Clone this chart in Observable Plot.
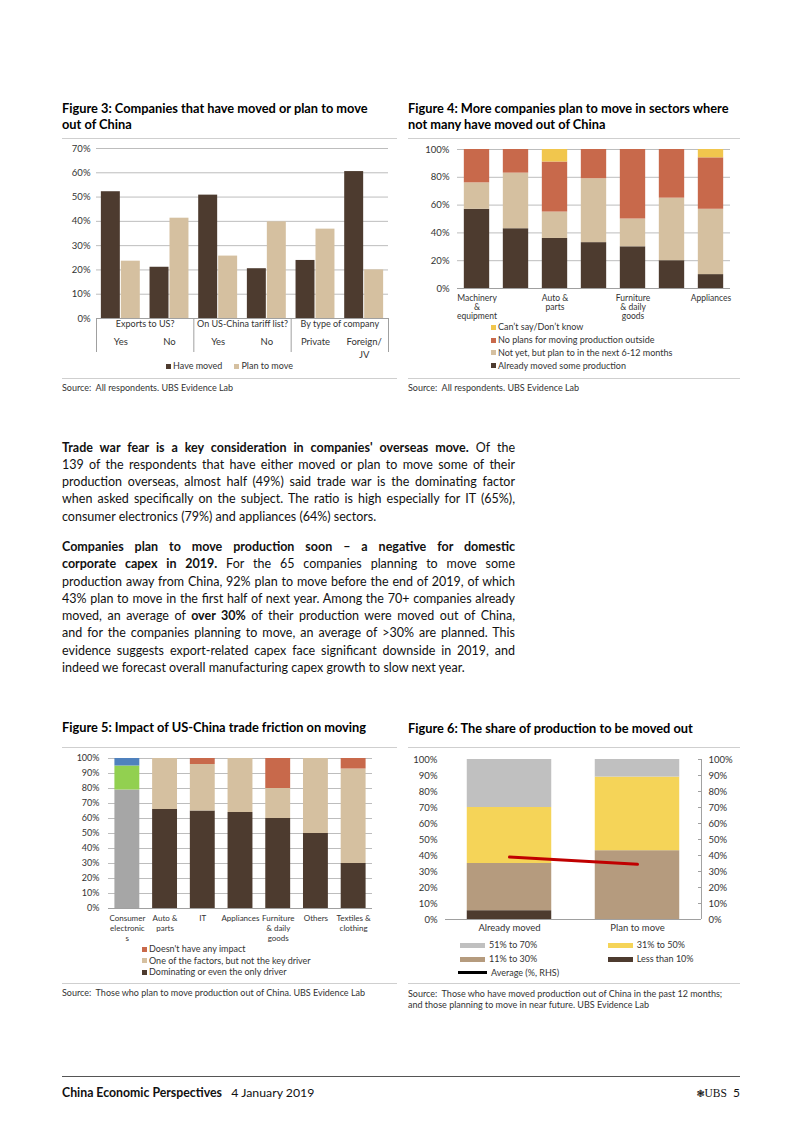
<!DOCTYPE html>
<html>
<head>
<meta charset="utf-8">
<script src="https://cdn.jsdelivr.net/npm/d3@7"></script>
<script src="https://cdn.jsdelivr.net/npm/@observablehq/plot@0.6"></script>
<style>
html,body{margin:0;padding:0;background:#fff;}
#page{position:relative;width:802px;height:1133px;overflow:hidden;font-family:Lato,"Open Sans",sans-serif;color:#000;}
#page > *{position:absolute;}
.title{font-weight:700;font-size:12.8px;line-height:16px;white-space:nowrap;color:#000;}
.hr{height:1px;background:#cfcfcf;}
.src{font-size:9px;line-height:11px;color:#333;white-space:pre;}
.leg{font-size:9px;line-height:12px;color:#333;white-space:nowrap;display:flex;align-items:center;}
.sw{display:inline-block;width:5px;height:5px;margin-right:2px;}
.body{font-size:12.5px;line-height:17.3px;width:453px;color:#111;}
.body div{text-align:justify;text-align-last:justify;white-space:nowrap;}
.body div.last{text-align-last:left;}
</style>
</head>
<body>
<div id="page"></div>
<script>
// ---------------- DATA ----------------
// Figure 3
const fig3Categories = ["Exports: Yes", "Exports: No", "Tariff list: Yes", "Tariff list: No", "Private", "Foreign/JV"];
const fig3TickLabels = ["Yes", "No", "Yes", "No", "Private", "Foreign/\nJV"];
const fig3Groups = ["Exports to US?", "On US-China tariff list?", "By type of company"];
const fig3Series = ["Have moved", "Plan to move"];
const fig3HaveMoved = [52.2, 21.1, 50.8, 20.5, 23.9, 60.5];
const fig3PlanToMove = [23.6, 41.3, 25.7, 39.8, 36.8, 20.0];
const fig3Ticks = [0, 10, 20, 30, 40, 50, 60, 70];

// Figure 4
const fig4Sectors = ["Machinery & equipment", "IT", "Auto & parts", "Consumer electronics", "Furniture & daily goods", "Textiles & clothing", "Appliances"];
const fig4TickLabels = ["Machinery\n&\nequipment", "", "Auto &\nparts", "", "Furniture\n& daily\ngoods", "", "Appliances"];
const fig4Series = ["Already moved some production", "Not yet, but plan to in the next 6-12 months", "No plans for moving production outside", "Can\u2019t say/Don\u2019t know"];
const fig4AlreadyMoved = [57, 43, 36, 33, 30, 20, 10];
const fig4NotYet = [19, 40, 19, 46, 20, 45, 47];
const fig4NoPlans = [24, 17, 36, 21, 50, 35, 37];
const fig4CantSay = [0, 0, 9, 0, 0, 0, 6];
const fig4Ticks = [0, 20, 40, 60, 80, 100];

// Figure 5
const fig5Sectors = ["Consumer electronics", "Auto & parts", "IT", "Appliances", "Furniture & daily goods", "Others", "Textiles & clothing"];
const fig5TickLabels = ["Consumer\nelectronic\ns", "Auto &\nparts", "IT", "Appliances", "Furniture\n& daily\ngoods", "Others", "Textiles &\nclothing"];
const fig5Series = ["Dominating or even the only driver", "One of the factors, but not the key driver", "Doesn't have any impact"];
const fig5Dominating = [79, 66, 65, 64, 60, 50, 30];
const fig5OneFactor = [16, 34, 31, 36, 20, 50, 63];
const fig5NoImpact = [5, 0, 4, 0, 20, 0, 7];
const fig5Ticks = [0, 10, 20, 30, 40, 50, 60, 70, 80, 90, 100];

// Figure 6
const fig6Groups = ["Already moved", "Plan to move"];
const fig6Series = ["Less than 10%", "11% to 30%", "31% to 50%", "51% to 70%"];
const fig6LessThan10 = [5.5, 0];
const fig6From11To30 = [29.5, 43];
const fig6From31To50 = [35, 46];
const fig6From51To70 = [30, 11];
const fig6Average = [39, 34.5];
const fig6Ticks = [0, 10, 20, 30, 40, 50, 60, 70, 80, 90, 100];

// ---------------- STYLE ----------------
const FONT = "Lato, 'Open Sans', sans-serif";
const COL = {
  dark: "#4d3b2f", tan: "#d5c0a0", red: "#c8694b", gold: "#f1c64d",
  gray: "#c0c0c0", yellow: "#f5d458", midTan: "#b59b7e", avg: "#c00000",
  ceGray: "#a6a6a6", ceGreen: "#92d050", ceBlue: "#4f81bd",
  grid: "#bdbdbd", axis: "#a0a0a0", text: "#333"
};
const pct = d => d + "%";

const page = document.getElementById("page");
function add(el, x, y) { el.style.left = x + "px"; el.style.top = y + "px"; page.appendChild(el); return el; }
function html(cls, content, x, y, style) {
  const d = document.createElement("div");
  d.className = cls; d.innerHTML = content;
  if (style) d.setAttribute("style", style);
  return add(d, x, y);
}
function hr(x, y, w, color, h) {
  return html("hr", "", x, y, `width:${w}px;` + (color ? `background:${color};` : "") + (h ? `height:${h}px;` : ""));
}
function legendItem(x, y, color, label, swW, swH) {
  const d = document.createElement("div");
  d.className = "leg";
  d.innerHTML = `<span class="sw" style="background:${color};width:${swW || 5}px;height:${swH || 5}px;margin-right:${swW ? 4 : 2}px"></span>${label}`;
  add(d, x, y - 6);
  return d;
}
function plotStyle(size) {
  return {fontFamily: FONT, fontSize: size + "px", color: COL.text, background: "transparent", overflow: "visible"};
}

// ---------------- FIGURE 3 ----------------
html("title", "Figure 3: Companies that have moved or plan to move<br>out of China", 62, 99.5);
hr(62, 138, 335);
{
  const W = 335, H = 220, mL = 34, mR = 9, mT = 8, mB = 42;
  const step = (W - mL - mR) / fig3Categories.length;
  const bw = step * 0.8;
  const data = fig3Categories.flatMap((c, i) => [
    {cat: c, series: fig3Series[0], value: fig3HaveMoved[i]},
    {cat: c, series: fig3Series[1], value: fig3PlanToMove[i]}
  ]);
  const groupFirst = fig3Groups.map((g, k) => fig3Categories[2 * k]);
  const frameH = H - mT - mB;
  const svg = Plot.plot({
    width: W, height: H, marginLeft: mL, marginRight: mR, marginTop: mT, marginBottom: mB,
    style: plotStyle(9.5),
    x: {domain: fig3Categories, paddingInner: 0.2, paddingOuter: 0.1, round: false, axis: null},
    y: {domain: [0, 70]},
    marks: [
      Plot.gridY(fig3Ticks, {stroke: COL.grid, strokeOpacity: 1}),
      Plot.axisY(fig3Ticks, {tickSize: 0, tickPadding: 6, tickFormat: pct, fill: COL.text, label: null}),
      Plot.barY(data.filter(d => d.series === fig3Series[0]), {x: "cat", y: "value", fill: COL.dark, insetRight: bw / 2 + 0.5}),
      Plot.barY(data.filter(d => d.series === fig3Series[1]), {x: "cat", y: "value", fill: COL.tan, insetLeft: bw / 2 + 0.5}),
      Plot.ruleY([0], {stroke: COL.axis}),
      Plot.ruleX(groupFirst, {dx: -step / 2, stroke: COL.axis, insetTop: frameH, insetBottom: -34}),
      Plot.ruleX([fig3Categories[fig3Categories.length - 1]], {dx: step / 2, stroke: COL.axis, insetTop: frameH, insetBottom: -34}),
      Plot.text(fig3Groups, {x: (d, k) => groupFirst[k], dx: step / 2, text: d => d, frameAnchor: "bottom", dy: 8, fontSize: 9, fill: COL.text}),
      Plot.text(fig3Categories, {x: d => d, text: (d, i) => fig3TickLabels[i], frameAnchor: "bottom", lineAnchor: "top", dy: 17.5, lineHeight: 1.35, fill: COL.text})
    ]
  });
  add(svg, 62, 140);
  const legend = document.createElement("div");
  legend.setAttribute("style", "display:flex;justify-content:center;gap:12px;width:335px");
  fig3Series.forEach((s, j) => {
    const it = document.createElement("div");
    it.className = "leg";
    it.innerHTML = `<span class="sw" style="background:${[COL.dark, COL.tan][j]}"></span>${s}`;
    legend.appendChild(it);
  });
  add(legend, 62, 360);
}
hr(62, 378, 335);
html("src", "Source:  All respondents. UBS Evidence Lab", 62, 382);

// ---------------- FIGURE 4 ----------------
html("title", "Figure 4: More companies plan to move in sectors where<br>not many have moved out of China", 408, 99.5);
hr(408, 138, 332);
{
  const W = 332, H = 185, mL = 49, mR = 10, mT = 9, mB = 37;
  const cols = [fig4AlreadyMoved, fig4NotYet, fig4NoPlans, fig4CantSay];
  const colors = [COL.dark, COL.tan, COL.red, COL.gold];
  const data = fig4Series.flatMap((s, j) => fig4Sectors.map((c, i) => ({sector: c, series: s, value: cols[j][i]})));
  const svg = Plot.plot({
    width: W, height: H, marginLeft: mL, marginRight: mR, marginTop: mT, marginBottom: mB,
    style: plotStyle(9.5),
    x: {domain: fig4Sectors, paddingInner: 0.35, paddingOuter: 0.175, round: false, axis: null},
    y: {domain: [0, 100]},
    color: {domain: fig4Series, range: colors},
    marks: [
      Plot.gridY(fig4Ticks, {stroke: COL.grid, strokeOpacity: 1}),
      Plot.axisY(fig4Ticks, {tickSize: 0, tickPadding: 8, tickFormat: pct, fill: COL.text, label: null}),
      Plot.barY(data, {x: "sector", y: "value", fill: "series"}),
      Plot.ruleY([0], {stroke: COL.axis}),
      Plot.text(fig4Sectors, {x: d => d, text: (d, i) => fig4TickLabels[i], frameAnchor: "bottom", lineAnchor: "top", dy: 6, lineHeight: 1.08, fontSize: 8.5, fill: COL.text})
    ]
  });
  add(svg, 408, 140);
  [3, 2, 1, 0].forEach((j, r) => legendItem(491, 327.3 + r * 12.8, colors[j], fig4Series[j]));
}
hr(408, 378, 332);
html("src", "Source:  All respondents. UBS Evidence Lab", 408, 382);

// ---------------- BODY TEXT ----------------
html("body",
  `<div><b>Trade war fear is a key consideration in companies' overseas move.</b> Of the</div>
   <div>139 of the respondents that have either moved or plan to move some of their</div>
   <div>production overseas, almost half (49%) said trade war is the dominating factor</div>
   <div>when asked specifically on the subject. The ratio is high especially for IT (65%),</div>
   <div class="last">consumer electronics (79%) and appliances (64%) sectors.</div>`, 62, 438.6);
html("body",
  `<div><b>Companies plan to move production soon \u2013 a negative for domestic</b></div>
   <div><b>corporate capex in 2019.</b> For the 65 companies planning to move some</div>
   <div>production away from China, 92% plan to move before the end of 2019, of which</div>
   <div>43% plan to move in the first half of next year. Among the 70+ companies already</div>
   <div>moved, an average of <b>over 30%</b> of their production were moved out of China,</div>
   <div>and for the companies planning to move, an average of &gt;30% are planned. This</div>
   <div>evidence suggests export-related capex face significant downside in 2019, and</div>
   <div class="last">indeed we forecast overall manufacturing capex growth to slow next year.</div>`, 62, 538);

// ---------------- FIGURE 5 ----------------
html("title", "Figure 5: Impact of US-China trade friction on moving", 62, 718.7);
hr(62, 747, 335);
{
  const W = 335, H = 194, mL = 46, mR = 25, mT = 8, mB = 36;
  const cols = [fig5Dominating, fig5OneFactor, fig5NoImpact];
  const colors = [COL.dark, COL.tan, COL.red];
  // the consumer electronics bar is drawn in the spreadsheet's default palette in the original
  const ceColors = [COL.ceGray, COL.ceGreen, COL.ceBlue];
  const data = fig5Series.flatMap((s, j) => fig5Sectors.map((c, i) => ({sector: c, k: j, value: cols[j][i]})));
  const svg = Plot.plot({
    width: W, height: H, marginLeft: mL, marginRight: mR, marginTop: mT, marginBottom: mB,
    style: plotStyle(9),
    x: {domain: fig5Sectors, paddingInner: 0.34, paddingOuter: 0.17, round: false, axis: null},
    y: {domain: [0, 100]},
    color: {type: "identity"},
    marks: [
      Plot.gridY(fig5Ticks, {stroke: COL.grid, strokeOpacity: 1}),
      Plot.axisY(fig5Ticks, {tickSize: 0, tickPadding: 9, tickFormat: pct, fill: COL.text, label: null}),
      Plot.barY(data, {x: "sector", y: "value", fill: d => (d.sector === fig5Sectors[0] ? ceColors : colors)[d.k]}),
      Plot.ruleY([0], {stroke: COL.axis}),
      Plot.text(fig5Sectors, {x: d => d, text: (d, i) => fig5TickLabels[i], frameAnchor: "bottom", lineAnchor: "top", dy: 5.5, lineHeight: 1.25, fontSize: 8, fill: COL.text})
    ]
  });
  add(svg, 62, 750);
  [2, 1, 0].forEach((j, r) => legendItem(142, 949.3 + r * 11.35, colors[j], fig5Series[j]));
}
hr(62, 983, 335);
html("src", "Source:  Those who plan to move production out of China. UBS Evidence Lab", 62, 987);

// ---------------- FIGURE 6 ----------------
html("title", "Figure 6: The share of production to be moved out", 408, 720.3);
hr(408, 747, 332);
{
  const W = 332, H = 185, mL = 37, mR = 39, mT = 9, mB = 16;
  const cols = [fig6LessThan10, fig6From11To30, fig6From31To50, fig6From51To70];
  const colors = [COL.dark, COL.midTan, COL.yellow, COL.gray];
  const data = fig6Series.flatMap((s, j) => fig6Groups.map((g, i) => ({group: g, series: s, value: cols[j][i]})));
  const step = (W - mL - mR) / fig6Groups.length;
  const frameW = W - mL - mR;
  const svg = Plot.plot({
    width: W, height: H, marginLeft: mL, marginRight: mR, marginTop: mT, marginBottom: mB,
    style: plotStyle(9.5),
    x: {domain: fig6Groups, paddingInner: 0.34, paddingOuter: 0.17, round: false, axis: null},
    y: {domain: [0, 100]},
    color: {domain: fig6Series, range: colors},
    marks: [
      Plot.barY(data, {x: "group", y: "value", fill: "series"}),
      Plot.ruleY([0], {stroke: COL.axis}),
      Plot.axisY(fig6Ticks, {anchor: "left", tickSize: 0, tickPadding: 8, tickFormat: pct, fill: COL.text, label: null}),
      Plot.axisY(fig6Ticks, {anchor: "right", tickSize: 0, tickPadding: 7, tickFormat: pct, fill: COL.text, label: null}),
      Plot.ruleY(fig6Ticks, {stroke: COL.axis, insetLeft: frameW - 3}),
      Plot.ruleX([fig6Groups[fig6Groups.length - 1]], {dx: step / 2, stroke: COL.axis}),
      Plot.line(fig6Groups, {x: d => d, y: (d, i) => fig6Average[i], stroke: COL.avg, strokeWidth: 3}),
      Plot.text(fig6Groups, {x: d => d, text: d => d, frameAnchor: "bottom", dy: 11, fill: COL.text})
    ]
  });
  add(svg, 408, 750);
  legendItem(460, 945, colors[3], fig6Series[3], 25, 5);
  legendItem(607.7, 945, colors[2], fig6Series[2], 25, 5);
  legendItem(460, 959.3, colors[1], fig6Series[1], 25, 5);
  legendItem(607.7, 959.3, colors[0], fig6Series[0], 25, 5);
  legendItem(458, 972.7, "#000", "Average (%, RHS)", 29, 3);
}
hr(408, 983, 332);
html("src", "Source:  Those who have moved production out of China in the past 12 months;\nand those planning to move in near future. UBS Evidence Lab", 408, 988);

// ---------------- FOOTER ----------------
hr(62, 1076, 678, "#555", 1.3);
html("", "<b>China Economic Perspectives</b>&nbsp;&nbsp;&nbsp;4 January 2019", 62, 1084.5,
  "font-size:12.3px;line-height:16px;white-space:nowrap;color:#111");
html("", "<span style=\"font-family:'DejaVu Sans';font-size:10px\">\u2743</span><span style=\"font-family:'Liberation Serif';font-size:11.5px\">UBS</span>&nbsp;&nbsp;5", 640, 1084.5,
  "width:100px;text-align:right;font-size:12px;line-height:16px;white-space:nowrap;color:#111");
</script>
</body>
</html>
